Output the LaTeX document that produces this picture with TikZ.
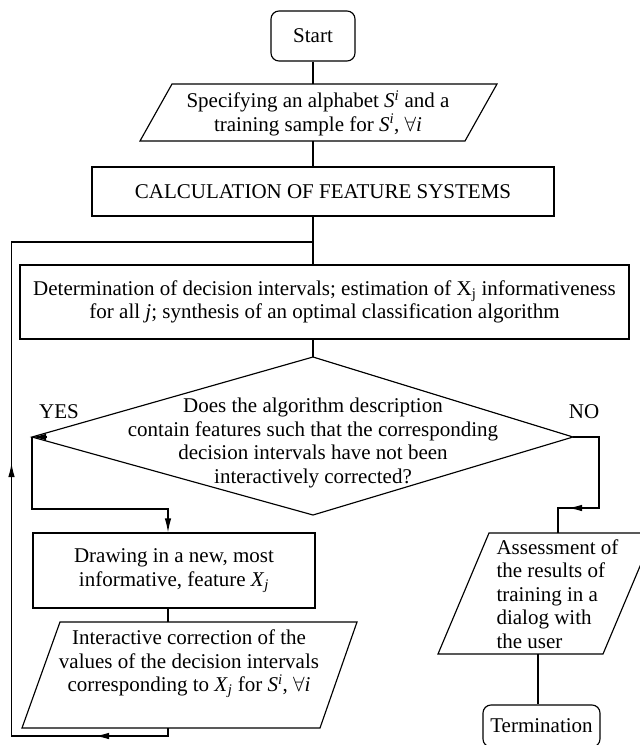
\documentclass[tikz,border=0pt]{standalone}
\usepackage{fontspec}
\setmainfont{Liberation Serif}
\usetikzlibrary{arrows.meta}
\begin{document}
\begin{tikzpicture}[x=1pt,y=-1pt,line width=1.15pt,
  every node/.style={font=\fontsize{21}{23.5}\selectfont,inner sep=0pt},
  box/.style={draw,rectangle},
  rbox/.style={draw,rectangle,rounded corners=8pt},
  tipx/.style={-{Latex[length=14pt,width=6.5pt]}},
  txt/.style={align=center}]
\useasboundingbox (0,0) rectangle (640,745);
\clip (0,0) rectangle (640,745);
% axis helper
\coordinate (ax) at (313,0);
% Start
\node[rbox,minimum width=84pt,minimum height=50pt] (start) at (313,36) {Start};
% Specifying parallelogram
\coordinate (sp1) at (172,84); \coordinate (sp2) at (497,84);
\coordinate (sp3) at (465,141); \coordinate (sp4) at (140,141);
\draw (sp1) -- (sp2) -- (sp3) -- (sp4) -- cycle;
\coordinate (spT) at (313,84); \coordinate (spB) at (313,141);
\node[txt] (spec) at (318,113) {Specifying an alphabet \textit{S}\textsuperscript{\textit{i}} and a\\ training sample for \textit{S}\textsuperscript{\textit{i}}, $\forall$\textit{i}};
% Calculation
\node[box,minimum width=462pt,minimum height=49pt] (calc) at (323,191.5) {CALCULATION OF FEATURE SYSTEMS};
% Determination
\node[box,minimum width=609pt,minimum height=74pt,txt] (det) at (324.5,302) {Determination of decision intervals; estimation of X\textsubscript{j} informativeness\\ for all \textit{j}; synthesis of an optimal classification algorithm};
% Diamond
\coordinate (dT) at (313,357); \coordinate (dL) at (32,437);
\coordinate (dR) at (573,437); \coordinate (dB) at (313,515);
\draw (dT) -- (dR) -- (dB) -- (dL) -- cycle;
\node[txt] (dq) at (313,443) {Does the algorithm description\\ contain features such that the corresponding\\ decision intervals have not been\\ interactively corrected?};
\node (yes) at (59,412) {YES};
\node (no) at (584,412) {NO};
% Drawing box
\node[box,minimum width=282pt,minimum height=75pt,txt] (drw) at (174,570.5) {Drawing in a new, most\\ informative, feature \textit{X}\textsubscript{\textit{j}}};
% Interactive parallelogram
\coordinate (ic1) at (60,622); \coordinate (ic2) at (357,622);
\coordinate (ic3) at (320,728); \coordinate (ic4) at (22,728);
\draw (ic1) -- (ic2) -- (ic3) -- (ic4) -- cycle;
\node[txt] (inter) at (189,664) {Interactive correction of the\\ values of the decision intervals\\ corresponding to \textit{X}\textsubscript{\textit{j}} for \textit{S}\textsuperscript{\textit{i}}, $\forall$\textit{i}};
% Assessment parallelogram
\coordinate (as1) at (489,533); \coordinate (as2) at (654,533);
\coordinate (as3) at (603,654); \coordinate (as4) at (438,654);
\draw (as1) -- (as2) -- (as3) -- (as4) -- cycle;
\node[align=left,anchor=west] (assess) at (496,594) {Assessment of\\ the results of\\ training in a\\ dialog with\\ the user};
% Termination
\node[rbox,minimum width=117pt,minimum height=42pt] (term) at (541.5,726) {Termination};
% connectors main axis
\draw (start.south) -- (spT);
\draw (spB) -- (spB |- calc.north);
\draw (ax |- calc.south) -- (ax |- det.north);
\draw (ax |- det.south) -- (dT);
% YES branch
\coordinate (yb) at (0,509);
\coordinate (lx) at (168,0);
\draw[tipx] ([xshift=15pt]dL) -- (dL);
\draw[tipx] (dL) -- (dL |- yb) -- (lx |- yb) -- (lx |- drw.north);
% NO branch
\coordinate (nr1) at (599,437); \coordinate (nr2) at (599,508);
\coordinate (nr3) at (558,508); \coordinate (asT) at (558,533);
\draw (dR) -- (nr1) -- (nr2) -- (nr3) -- (asT);
\draw[tipx] (nr2) -- (568,508);
% Drawing -> Interactive
\draw (lx |- drw.south) -- (lx |- ic1);
% loop back
\coordinate (lb1) at (168,736); \coordinate (lb2) at (11.5,736);
\coordinate (lb3) at (11.5,242); \coordinate (lb4) at (313,242);
\draw (lx |- ic4) -- (lb1) -- (lb2) -- (lb3) -- (lb4);
\draw[tipx] (lb1) -- (95,736);
\draw[tipx] (lb2) -- (11.5,463);
% Assessment -> Termination
\coordinate (asB) at (538,654);
\draw (asB) -- (asB |- term.north);
\end{tikzpicture}
\end{document}
